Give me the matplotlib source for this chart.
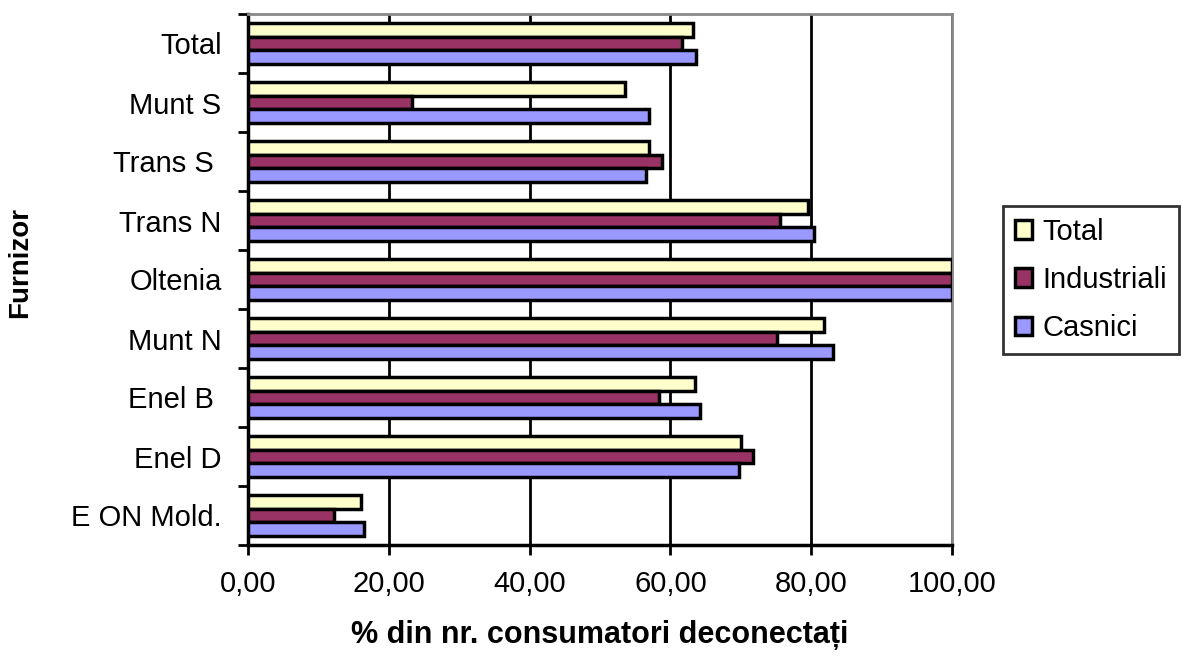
import matplotlib
matplotlib.use("Agg")
import matplotlib.pyplot as plt
import numpy as np
from matplotlib.ticker import FixedLocator, FuncFormatter

plt.rcParams['font.family'] = ['Liberation Sans', 'DejaVu Sans']

# furnizori, top to bottom
furnizori = ["Total", "Munt S", "Trans S ", "Trans N", "Oltenia",
             "Munt N", "Enel B ", "Enel D", "E ON Mold."]
total = [63.2, 53.6, 56.9, 79.6, 100.0, 81.8, 63.5, 70.0, 16.0]
industriali = [61.7, 23.3, 58.8, 75.6, 100.0, 75.2, 58.4, 71.8, 12.2]
casnici = [63.6, 57.0, 56.6, 80.4, 100.0, 83.1, 64.2, 69.7, 16.5]

serii = [("Total", total, "#FFFFCC"),
         ("Industriali", industriali, "#993366"),
         ("Casnici", casnici, "#9999FF")]

fig = plt.figure(figsize=(11.83, 6.59), dpi=100)
ax = fig.add_axes([248 / 1183, 1 - 545 / 659, 704 / 1183, 531 / 659])

n = len(furnizori)
y = np.arange(n)[::-1].astype(float)
h = 0.235
for k, (nume, vals, col) in enumerate(serii):
    ax.barh(y + (1 - k) * h, vals, height=h, color=col, edgecolor="black",
            linewidth=2.5, label=nume, zorder=3)

ax.set_xlim(0, 100)
ax.set_ylim(-0.5, n - 0.5)

ax.xaxis.set_major_locator(FixedLocator([0, 20, 40, 60, 80, 100]))
ax.xaxis.set_major_formatter(FuncFormatter(lambda v, p: f"{v:.2f}".replace(".", ",")))
ax.grid(axis="x", color="black", linewidth=2, zorder=0)

ax.set_yticks(y)
ax.set_yticklabels(furnizori)
ax.yaxis.set_minor_locator(FixedLocator(np.arange(n + 1) - 0.5))
ax.tick_params(axis="y", which="major", length=0, pad=19, labelsize=21)
ax.tick_params(axis="y", which="minor", length=7, width=2, color="black")
ax.tick_params(axis="x", which="major", length=7, width=2, pad=11, labelsize=21)

for side in ("left", "bottom"):
    ax.spines[side].set_linewidth(2.5)
    ax.spines[side].set_color("black")
for side in ("top", "right"):
    ax.spines[side].set_linewidth(2)
    ax.spines[side].set_color("#888888")

ax.set_xlabel("% din nr. consumatori deconectați", fontsize=22,
              fontweight="bold", labelpad=16)
fig.text(20 / 1183, 1 - 262 / 659, "Furnizor", rotation=90, fontsize=20,
         fontweight="bold", ha="center", va="center")

leg = ax.legend(loc="center left", bbox_to_anchor=(1003 / 1183, 1 - 280 / 659),
                bbox_transform=fig.transFigure, fontsize=21, frameon=True,
                fancybox=False, edgecolor="black", handlelength=0.6,
                handleheight=0.6, handletextpad=0.35, labelspacing=0.7,
                borderpad=0.4, borderaxespad=0)
leg.get_frame().set_linewidth(2)

fig.savefig("out.png", dpi=100)
